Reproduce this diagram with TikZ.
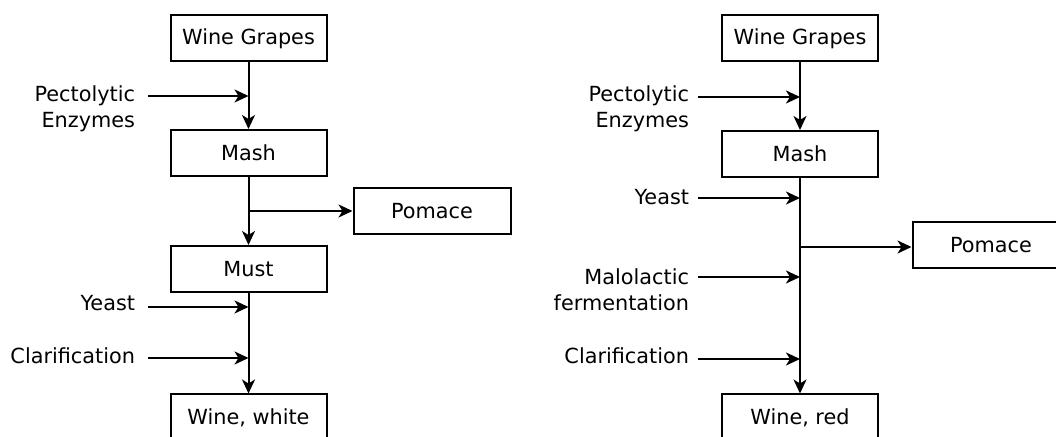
\documentclass[tikz,border=0pt]{standalone}
\usepackage{fontspec}
\setmainfont{DejaVu Sans}
\usetikzlibrary{arrows.meta}
\begin{document}
\begin{tikzpicture}[x=0.5pt, y=-0.5pt, line width=1pt,
    >={Stealth[length=7pt, width=6.5pt, inset=2pt]},
    box/.style={rectangle, draw, minimum width=78pt, minimum height=23pt, inner sep=0pt, font=\fontsize{10.4pt}{13pt}\selectfont},
    lbl/.style={inner sep=0pt, anchor=east, align=right, font=\fontsize{10.4pt}{13pt}\selectfont}]
    \useasboundingbox (0, 0) rectangle (1056, 437);
    \clip (0, 0) rectangle (1056, 437);

    % White wine
    \node[box] at (248.5, 38.5) (grapesW) {Wine Grapes};
    \node[box] at (248.5, 153) (mashW) {Mash};
    \node[box] at (248.5, 269) (mustW) {Must};
    \node[box] at (248.5, 417.5) (wineW) {Wine, white};
    \node[box, minimum width=78.5pt] at (432, 211) (pomaceW) {Pomace};

    \node[lbl] at (136, 109) (pectoW) {Pectolytic\\Enzymes};
    \node[lbl] at (136, 303) (yeastW) {Yeast};
    \node[lbl] at (136, 356) (clarW) {Clarification};

    \coordinate (pW) at (248.5, 96);
    \coordinate (poW) at (248.5, 211);
    \coordinate (yW) at (248.5, 307);
    \coordinate (cW) at (248.5, 358);

    \draw[->] (grapesW) -- (mashW);
    \draw[->] (mashW) -- (mustW);
    \draw[->] (mustW) -- (wineW);
    \draw[->] (poW) -- (pomaceW.west |- poW);
    \draw[->] ([xshift=6pt]pectoW.east |- pW) -- (pW);
    \draw[->] ([xshift=6pt]yeastW.east |- yW) -- (yW);
    \draw[->] ([xshift=6pt]clarW.east |- cW) -- (cW);

    % Red wine
    \node[box] at (800, 38.5) (grapesR) {Wine Grapes};
    \node[box] at (800, 154) (mashR) {Mash};
    \node[box] at (800, 417.5) (wineR) {Wine, red};
    \node[box, minimum width=78.5pt] at (991, 245.5) (pomaceR) {Pomace};

    \node[lbl] at (690, 109) (pectoR) {Pectolytic\\Enzymes};
    \node[lbl] at (690, 197.5) (yeastR) {Yeast};
    \node[lbl] at (690, 290) (maloR) {Malolactic\\fermentation};
    \node[lbl] at (690, 356) (clarR) {Clarification};

    \coordinate (pR) at (800, 97);
    \coordinate (yR) at (800, 198);
    \coordinate (poR) at (800, 247);
    \coordinate (mR) at (800, 277);
    \coordinate (cR) at (800, 359);

    \draw[->] (grapesR) -- (mashR);
    \draw[->] (mashR) -- (wineR);
    \draw[->] (poR) -- (pomaceR.west |- poR);
    \draw[->] ([xshift=4pt]pectoR.east |- pR) -- (pR);
    \draw[->] ([xshift=4pt]yeastR.east |- yR) -- (yR);
    \draw[->] ([xshift=4pt]maloR.east |- mR) -- (mR);
    \draw[->] ([xshift=4pt]clarR.east |- cR) -- (cR);

\end{tikzpicture}
\end{document}
